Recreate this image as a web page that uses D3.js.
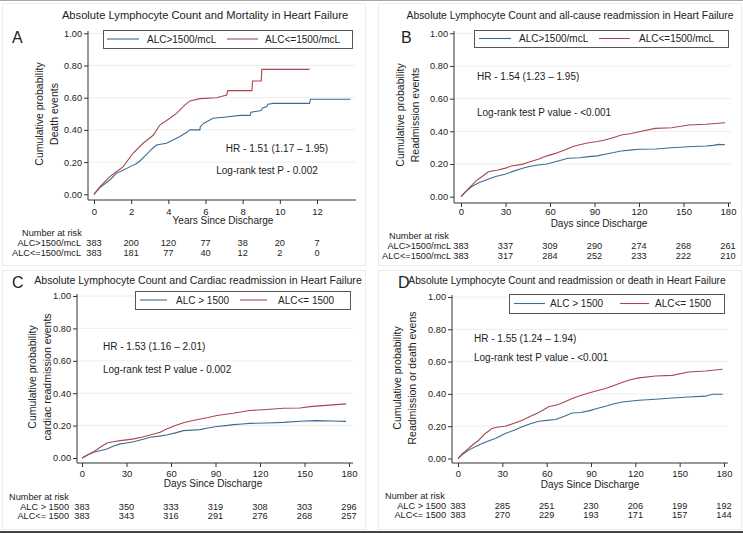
<!DOCTYPE html>
<html>
<head>
<meta charset="utf-8">
<script src="https://cdn.jsdelivr.net/npm/d3@7"></script>
<style>
  body { margin: 0; background: #fff; }
  svg { display: block; font-family: "Liberation Sans", Arial, sans-serif; }
</style>
</head>
<body>
<svg id="chart" width="743" height="534"></svg>
<script>
// ---- data ----
const yTicks = [0, 0.2, 0.4, 0.6, 0.8, 1.0];
const yearTicks = [0, 2, 4, 6, 8, 10, 12];
const dayTicks = [0, 30, 60, 90, 120, 150, 180];

// A: mortality (years)
const aHighT = [0, 0.3, 0.85, 1.2, 1.56, 2.0, 2.28, 2.5, 2.8, 3.1, 3.36, 3.9, 4.3, 4.6, 5.0, 5.16, 5.7, 5.72, 5.9, 6.4, 7.1, 7.86, 8.4, 8.45, 9.0, 9.05, 9.3, 9.35, 9.66, 11.6, 11.65, 13.8];
const aHighV = [0, 0.04, 0.089, 0.13, 0.15, 0.175, 0.19, 0.21, 0.245, 0.28, 0.306, 0.317, 0.34, 0.358, 0.385, 0.40, 0.40, 0.42, 0.44, 0.472, 0.48, 0.49, 0.49, 0.51, 0.52, 0.535, 0.545, 0.56, 0.565, 0.565, 0.59, 0.59];
const aLowT = [0, 0.3, 0.85, 1.2, 1.56, 2.1, 2.64, 3.2, 3.54, 4.08, 4.44, 4.9, 5.16, 5.7, 6.6, 7.14, 7.2, 8.5, 8.53, 9.0, 9.03, 11.6];
const aLowV = [0, 0.045, 0.11, 0.14, 0.17, 0.255, 0.317, 0.368, 0.43, 0.472, 0.503, 0.555, 0.58, 0.594, 0.60, 0.617, 0.644, 0.644, 0.704, 0.704, 0.776, 0.776];
const aRiskHigh = [383, 200, 120, 77, 38, 20, 7];
const aRiskLow = [383, 181, 77, 40, 12, 2, 0];

// B: all-cause readmission (days)
const bHighT = [0, 3, 7, 12, 18.5, 24, 29.7, 35, 41, 46, 52, 58, 63.5, 68, 72, 80, 86, 92, 97, 103, 108, 114, 120, 131, 142, 153.5, 165, 170, 174, 178];
const bHighV = [0, 0.03, 0.061, 0.085, 0.108, 0.125, 0.137, 0.155, 0.173, 0.185, 0.194, 0.2, 0.214, 0.225, 0.235, 0.238, 0.245, 0.25, 0.26, 0.27, 0.28, 0.285, 0.29, 0.292, 0.30, 0.306, 0.31, 0.314, 0.32, 0.318];
const bLowT = [0, 3, 7.2, 10, 14, 18.5, 25, 30, 34, 41, 46, 52, 58, 63.5, 70, 75, 80, 86, 92, 97, 103, 108, 114, 120, 131, 142, 153.5, 165, 178];
const bLowV = [0, 0.03, 0.07, 0.095, 0.122, 0.153, 0.163, 0.175, 0.188, 0.198, 0.212, 0.229, 0.25, 0.265, 0.286, 0.306, 0.318, 0.33, 0.338, 0.347, 0.362, 0.378, 0.385, 0.398, 0.418, 0.422, 0.439, 0.443, 0.453];
const bRiskHigh = [383, 337, 309, 290, 274, 268, 261];
const bRiskLow = [383, 317, 284, 252, 233, 222, 210];

// C: cardiac readmission (days)
const cHighT = [0, 4, 7.9, 12, 16.8, 21, 25.8, 30, 34.8, 40, 46, 52, 57, 63, 68.4, 74, 79.7, 85, 91, 97, 102, 108, 113, 124.5, 135.8, 147, 158, 169, 178];
const cHighV = [0, 0.02, 0.035, 0.045, 0.056, 0.072, 0.087, 0.093, 0.10, 0.113, 0.128, 0.135, 0.142, 0.155, 0.169, 0.172, 0.175, 0.185, 0.194, 0.2, 0.206, 0.21, 0.214, 0.216, 0.22, 0.227, 0.231, 0.228, 0.226];
const cLowT = [0, 4, 7.9, 12.3, 16.8, 21, 25.8, 30, 34.8, 40, 46, 52.7, 57, 63, 68.4, 74, 79.7, 85, 91, 97, 102, 108, 113, 124.5, 135.8, 147, 153.7, 160, 169, 178];
const cLowV = [0, 0.02, 0.039, 0.066, 0.093, 0.1, 0.107, 0.112, 0.118, 0.128, 0.142, 0.159, 0.179, 0.2, 0.218, 0.23, 0.241, 0.25, 0.262, 0.27, 0.276, 0.285, 0.293, 0.299, 0.307, 0.309, 0.317, 0.322, 0.328, 0.334];
const cRiskHigh = [383, 350, 333, 319, 308, 303, 296];
const cRiskLow = [383, 343, 316, 291, 276, 268, 257];

// D: readmission or death (days)
const dHighT = [0, 3, 7.2, 12, 16.3, 21, 25.3, 32, 38, 43.4, 49, 54.7, 60, 66, 72, 77.2, 83, 88.5, 94, 99.8, 105, 111, 122.4, 133.7, 145, 156, 167.6, 172, 179];
const dHighV = [0, 0.025, 0.052, 0.075, 0.093, 0.11, 0.124, 0.155, 0.175, 0.196, 0.215, 0.231, 0.236, 0.241, 0.262, 0.282, 0.285, 0.295, 0.31, 0.324, 0.338, 0.35, 0.361, 0.367, 0.375, 0.381, 0.386, 0.398, 0.398];
const dLowT = [0, 3, 7.2, 10, 14, 18.5, 23, 27, 32, 38, 43.4, 49, 54.7, 61.4, 68, 72, 77.2, 83, 88.5, 94, 99.8, 105, 111, 116, 122.4, 133.7, 145, 156, 167.6, 179];
const dLowV = [0, 0.03, 0.062, 0.085, 0.113, 0.155, 0.186, 0.195, 0.2, 0.218, 0.237, 0.262, 0.285, 0.32, 0.334, 0.35, 0.371, 0.39, 0.406, 0.42, 0.433, 0.45, 0.47, 0.486, 0.499, 0.511, 0.515, 0.536, 0.542, 0.553];
const dRiskHigh = [383, 285, 251, 230, 206, 199, 192];
const dRiskLow = [383, 270, 229, 193, 171, 157, 144];

const BLUE = '#3f6b91';
const RED = '#a8474f';

const svg = d3.select('#chart');

// outer frame lines
svg.append('line').attr('x1', 0).attr('x2', 743).attr('y1', 0.5).attr('y2', 0.5).attr('stroke', '#a8a8a8');
svg.append('line').attr('x1', 0).attr('x2', 743).attr('y1', 532).attr('y2', 532).attr('stroke', '#444').attr('stroke-width', 2);

const panels = [
    {
        box: [2, 3, 365, 265],
        title: 'Absolute Lymphocyte Count and Mortality in Heart Failure', titleX: 205, titleY: 19, titleSize: 11.2,
        letter: 'A', letterX: 12, letterY: 43,
        ticks: yearTicks, yAxisX: 88, xStart: 94, xEnd: 317, xAxisEnd: 356,
        y0: 194.3, y1: 33.3, xAxisY: 200, yAxisTop: 31,
        tickLabelY: 214.5, xTitle: 'Years Since Discharge', xTitleX: 223, xTitleY: 224,
        yLabel: ['Cumulative probability', 'Death events'], yLabelX: [39, 54], yLabelY: 114,
        nar: [22, 236, 246, 256], narRight: 81,
        names: ['ALC>1500/mcL', 'ALC<=1500/mcL'],
        legend: [103, 30, 352, 48], legItems: [[107, 139, 147], [227, 258, 265]],
        hr: 'HR - 1.51 (1.17 \u2013 1.95)', hrPos: [277, 152, 'middle'],
        lr: 'Log-rank test P - 0.002', lrPos: [267, 174, 'middle'],
        high: [aHighT, aHighV], low: [aLowT, aLowV], risk: [aRiskHigh, aRiskLow]
    },
    {
        box: [378, 3, 741, 265],
        title: 'Absolute Lymphocyte Count and all-cause readmission in Heart Failure', titleX: 570, titleY: 19, titleSize: 10.4,
        letter: 'B', letterX: 401, letterY: 43,
        ticks: dayTicks, yAxisX: 454, xStart: 461, xEnd: 728, xAxisEnd: 731,
        y0: 196.7, y1: 33.3, xAxisY: 203, yAxisTop: 31,
        tickLabelY: 215, xTitle: 'Days since Discharge', xTitleX: 599, xTitleY: 227,
        yLabel: ['Cumulative probability', 'Readmission events'], yLabelX: [400, 415], yLabelY: 115,
        nar: [389, 239, 249, 259], narRight: 451,
        names: ['ALC>1500/mcL', 'ALC<=1500/mcL'],
        legend: [474, 30, 728, 47], legItems: [[479, 511, 519], [599, 630, 639]],
        hr: 'HR - 1.54 (1.23 \u2013 1.95)', hrPos: [477, 80, 'start'],
        lr: 'Log-rank test P value - <0.001', lrPos: [477, 116, 'start'],
        high: [bHighT, bHighV], low: [bLowT, bLowV], risk: [bRiskHigh, bRiskLow]
    },
    {
        box: [2, 270, 365, 529],
        title: 'Absolute Lymphocyte Count and Cardiac readmission in Heart Failure', titleX: 198, titleY: 283.5, titleSize: 10.6,
        letter: 'C', letterX: 12, letterY: 288,
        ticks: dayTicks, yAxisX: 77, xStart: 82, xEnd: 349, xAxisEnd: 353,
        y0: 458, y1: 296, xAxisY: 463, yAxisTop: 294,
        tickLabelY: 477, xTitle: 'Days Since Discharge', xTitleX: 213, xTitleY: 486.5,
        yLabel: ['Cumulative probability', 'cardiac readmission events'], yLabelX: [32, 47], yLabelY: 377,
        nar: [9, 499.5, 509.5, 519], narRight: 69,
        names: ['ALC > 1500', 'ALC<= 1500'],
        legend: [135, 291, 350, 309], legItems: [[140, 167, 176], [240, 267, 278]],
        hr: 'HR - 1.53 (1.16 \u2013 2.01)', hrPos: [103, 350, 'start'],
        lr: 'Log-rank test P value - 0.002', lrPos: [103, 373, 'start'],
        high: [cHighT, cHighV], low: [cLowT, cLowV], risk: [cRiskHigh, cRiskLow]
    },
    {
        box: [378, 270, 741, 529],
        title: 'Absolute Lymphocyte Count and readmission or death in Heart Failure', titleX: 567, titleY: 283.5, titleSize: 10.2,
        letter: 'D', letterX: 398, letterY: 288,
        ticks: dayTicks, yAxisX: 452, xStart: 458, xEnd: 724, xAxisEnd: 728,
        y0: 458.5, y1: 297, xAxisY: 463, yAxisTop: 295,
        tickLabelY: 477, xTitle: 'Days Since Discharge', xTitleX: 590, xTitleY: 488,
        yLabel: ['Cumulative probability', 'Readmission or death evens'], yLabelX: [397, 412], yLabelY: 378,
        nar: [385, 498.5, 508.5, 518], narRight: 446,
        names: ['ALC > 1500', 'ALC<= 1500'],
        legend: [509, 294, 724, 313], legItems: [[514, 545, 550], [620, 649, 655]],
        hr: 'HR - 1.55 (1.24 \u2013 1.94)', hrPos: [474, 342, 'start'],
        lr: 'Log-rank test P value - <0.001', lrPos: [474, 361, 'start'],
        high: [dHighT, dHighV], low: [dLowT, dLowV], risk: [dRiskHigh, dRiskLow]
    }
];

function drawPanel(p) {
    const g = svg.append('g');
    const b = p.box;
    g.append('rect').attr('x', b[0] + 0.5).attr('y', b[1] + 0.5)
        .attr('width', b[2] - b[0]).attr('height', b[3] - b[1])
        .attr('fill', 'none').attr('stroke', '#ececec');

    const x = d3.scaleLinear().domain([p.ticks[0], p.ticks[p.ticks.length - 1]]).range([p.xStart, p.xEnd]);
    const y = d3.scaleLinear().domain([0, 1]).range([p.y0, p.y1]);

    // gridlines
    g.selectAll('.grid').data(yTicks.slice(1)).enter().append('line')
        .attr('x1', p.yAxisX).attr('x2', p.xAxisEnd)
        .attr('y1', d => y(d)).attr('y2', d => y(d))
        .attr('stroke', '#eeeeee').attr('stroke-width', 1);

    // y axis
    const yAxis = g.append('g').attr('transform', `translate(${p.yAxisX},0)`)
        .call(d3.axisLeft(y).tickValues(yTicks).tickFormat(d3.format('.2f')).tickSize(4).tickPadding(2));
    yAxis.select('.domain').remove();
    yAxis.append('line').attr('x1', 0).attr('x2', 0).attr('y1', p.yAxisTop).attr('y2', p.xAxisY).attr('stroke', '#333');
    yAxis.selectAll('text').attr('font-size', 9.2).attr('fill', '#222').attr('font-family', '"Liberation Sans", Arial, sans-serif');
    yAxis.selectAll('.tick line').attr('stroke', '#333');

    // x axis
    const xAxis = g.append('g').attr('transform', `translate(0,${p.xAxisY})`)
        .call(d3.axisBottom(x).tickValues(p.ticks).tickSize(4).tickPadding(3));
    xAxis.select('.domain').remove();
    xAxis.append('line').attr('x1', p.yAxisX).attr('x2', p.xAxisEnd).attr('y1', 0).attr('y2', 0).attr('stroke', '#333');
    xAxis.selectAll('text').attr('font-size', 9.5).attr('fill', '#222')
        .attr('font-family', '"Liberation Sans", Arial, sans-serif')
        .attr('dy', null).attr('y', p.tickLabelY - p.xAxisY);
    xAxis.selectAll('.tick line').attr('stroke', '#333');

    // curves
    const line = d3.line().x(d => x(d[0])).y(d => y(d[1])).curve(d3.curveLinear);
    [[p.high, BLUE], [p.low, RED]].forEach(([s, col]) => {
        const pts = s[0].map((t, i) => [t, s[1][i]]);
        g.append('path').attr('d', line(pts)).attr('fill', 'none')
            .attr('stroke', col).attr('stroke-width', 1.1);
    });

    const txt = (t, xx, yy, anchor, size) => g.append('text').attr('x', xx).attr('y', yy)
        .attr('text-anchor', anchor || 'start').attr('font-size', size || 10).attr('fill', '#222').text(t);

    txt(p.title, p.titleX, p.titleY, 'middle', p.titleSize);
    txt(p.letter, p.letterX, p.letterY, 'start', 16);
    txt(p.xTitle, p.xTitleX, p.xTitleY, 'middle', 10);
    p.yLabel.forEach((l, i) => {
        g.append('text').attr('transform', `translate(${p.yLabelX[i] + 4},${p.yLabelY}) rotate(-90)`)
            .attr('text-anchor', 'middle').attr('font-size', 10.5).attr('fill', '#222').text(l);
    });

    // legend
    const L = p.legend;
    g.append('rect').attr('x', L[0] + 0.5).attr('y', L[1] + 0.5).attr('width', L[2] - L[0]).attr('height', L[3] - L[1])
        .attr('fill', '#fff').attr('stroke', '#555');
    const ly = (L[1] + L[3]) / 2;
    p.legItems.forEach((it, i) => {
        g.append('line').attr('x1', it[0]).attr('x2', it[1]).attr('y1', ly).attr('y2', ly)
            .attr('stroke', i === 0 ? BLUE : RED).attr('stroke-width', 1.1);
        txt(p.names[i], it[2], ly + 3.5, 'start', 10);
    });

    txt(p.hr, p.hrPos[0], p.hrPos[1], p.hrPos[2], 10);
    txt(p.lr, p.lrPos[0], p.lrPos[1], p.lrPos[2], 10);

    // number at risk
    txt('Number at risk', p.nar[0], p.nar[1], 'start', 9.2);
    p.risk.forEach((row, r) => {
        txt(p.names[r], p.narRight, p.nar[2 + r], 'end', 9.2);
        row.forEach((v, i) => txt(v, x(p.ticks[i]), p.nar[2 + r], 'middle', 9.2));
    });
}

panels.forEach(drawPanel);
</script>
</body>
</html>
